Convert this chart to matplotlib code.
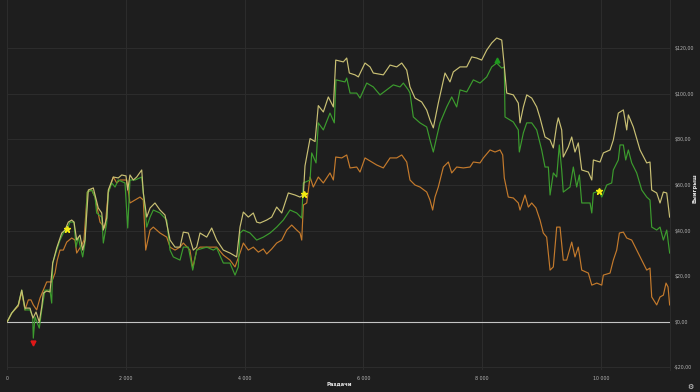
import matplotlib
matplotlib.use("Agg")
import matplotlib.pyplot as plt
import matplotlib.transforms as mtransforms
import numpy as np

# ---------------- data ----------------
green_hands = [0, 74, 185, 243, 298, 382, 428, 438, 467, 539, 580, 635, 719, 748, 765, 832, 888, 944, 1011, 1057,
               1124, 1158, 1196, 1270, 1309, 1348, 1422, 1478, 1506, 1591, 1618, 1675, 1702, 1759, 1815, 1870, 1983, 2029, 2067, 2152,
               2265, 2292, 2349, 2405, 2460, 2573, 2686, 2742, 2797, 2910, 2966, 3050, 3124, 3191, 3360, 3471, 3528, 3640, 3752, 3837,
               3892, 3921, 3977, 4090, 4202, 4314, 4427, 4539, 4651, 4764, 4876, 4961, 4988, 5101, 5129, 5202, 5240, 5325, 5437, 5510,
               5538, 5690, 5719, 5775, 5887, 5943, 6056, 6167, 6280, 6393, 6504, 6617, 6673, 6757, 6785, 6841, 6954, 7067, 7122, 7178,
               7235, 7291, 7404, 7488, 7572, 7628, 7741, 7852, 7965, 8078, 8162, 8246, 8331, 8374, 8386, 8526, 8610, 8627, 8695, 8752,
               8836, 8920, 9004, 9060, 9116, 9145, 9200, 9257, 9301, 9341, 9368, 9481, 9537, 9594, 9639, 9679, 9819, 9848, 9875, 9976,
               10016, 10100, 10184, 10211, 10295, 10324, 10380, 10420, 10464, 10521, 10605, 10690, 10774, 10829, 10858, 10942, 10998, 11054, 11111, 11160]
green_won = [0, 3.7, 7.3, 13.8, 5.1, 5.1, 2.0, -7.3, 2.0, -2.9, 5.1, 13.8, 13.8, 8.1, 25.7, 31.4, 35.8, 38.9, 40.7, 43.7,
             43.7, 32.7, 37.1, 28.4, 34.5, 56.9, 57.8, 54.7, 47.7, 45.9, 34.5, 43.3, 56.5, 60.9, 59.1, 62.2, 60.9, 41.1, 62.2, 62.2,
             63.5, 56.5, 41.5, 45.9, 49.0, 47.7, 44.6, 31.4, 28.4, 27.0, 32.7, 32.7, 22.6, 31.4, 32.7, 31.4, 32.3, 25.7, 25.7, 20.4,
             24.0, 38.9, 40.2, 38.9, 35.8, 37.1, 38.9, 41.5, 44.6, 49.0, 47.7, 45.5, 60.9, 62.2, 74.1, 69.7, 87.3, 84.2, 91.6, 87.3,
             106.2, 105.3, 107.0, 100.4, 100.4, 98.2, 104.8, 103.1, 99.6, 101.8, 104.0, 103.1, 104.8, 101.8, 100.4, 89.9, 87.3, 85.5, 79.8, 74.5,
             81.1, 87.3, 94.3, 98.7, 94.3, 101.8, 100.9, 106.2, 104.8, 107.5, 111.9, 113.6, 111.4, 111.9, 89.9, 87.7, 84.2, 74.5, 82.9, 87.3,
             87.3, 84.2, 75.4, 67.9, 67.9, 55.6, 65.3, 63.5, 77.6, 66.6, 56.9, 59.1, 67.9, 59.1, 64.4, 52.1, 52.1, 47.7, 56.5, 57.4,
             54.7, 60.0, 60.9, 66.6, 71.0, 77.6, 77.6, 71.0, 75.4, 69.7, 65.3, 57.8, 54.7, 53.4, 41.5, 40.2, 41.5, 35.8, 40.2, 30.1]

yellow_hands = [0, 74, 185, 243, 298, 382, 433, 484, 539, 580, 607, 664, 719, 765, 832, 917, 972, 1028, 1085, 1124,
                1169, 1225, 1270, 1309, 1365, 1449, 1533, 1591, 1618, 1675, 1702, 1786, 1870, 1928, 2000, 2029, 2067, 2123, 2180, 2265,
                2292, 2349, 2405, 2488, 2573, 2657, 2742, 2826, 2910, 2966, 3050, 3134, 3191, 3247, 3360, 3444, 3528, 3640, 3752, 3865,
                3921, 3977, 4061, 4145, 4202, 4258, 4371, 4455, 4539, 4624, 4735, 4848, 4932, 4988, 5016, 5101, 5185, 5240, 5325, 5409,
                5494, 5534, 5662, 5719, 5763, 5859, 5915, 6027, 6112, 6167, 6336, 6449, 6561, 6646, 6730, 6785, 6869, 6982, 7067, 7122,
                7178, 7262, 7375, 7459, 7515, 7628, 7741, 7825, 7909, 7993, 8078, 8162, 8246, 8331, 8369, 8415, 8526, 8610, 8639, 8695,
                8752, 8836, 8920, 8976, 9060, 9145, 9200, 9257, 9284, 9341, 9368, 9452, 9510, 9565, 9621, 9679, 9790, 9848, 9875, 9987,
                10043, 10156, 10211, 10295, 10380, 10437, 10464, 10548, 10661, 10774, 10829, 10858, 10942, 10998, 11054, 11111, 11160]
yellow_won = [0, 3.7, 7.3, 13.8, 5.9, 5.9, 1.5, 4.2, -0.2, 6.4, 12.5, 13.4, 13.0, 25.7, 32.3, 38.9, 40.2, 43.7, 44.6, 43.7,
              35.8, 38.0, 31.4, 35.8, 57.8, 58.7, 49.9, 47.7, 40.2, 45.5, 57.8, 63.5, 63.1, 64.4, 64.0, 57.8, 64.4, 62.2, 63.5, 66.6,
              56.5, 45.9, 49.9, 52.1, 49.0, 46.8, 35.8, 32.7, 32.7, 39.3, 38.9, 31.4, 32.7, 38.9, 37.1, 41.1, 35.8, 31.4, 30.1, 28.4,
              41.5, 48.1, 45.9, 47.7, 43.7, 43.3, 44.6, 45.9, 50.3, 47.7, 56.5, 55.6, 54.7, 55.6, 68.4, 80.4, 79.1, 94.9, 92.1, 98.7,
              94.3, 114.9, 114.1, 115.8, 109.2, 108.4, 107.5, 113.6, 111.9, 109.2, 108.4, 112.7, 111.9, 113.6, 110.5, 103.1, 98.2, 96.5, 92.9, 88.6,
              85.1, 96.0, 109.2, 105.3, 109.7, 111.9, 111.9, 116.3, 115.8, 114.9, 119.3, 122.4, 124.6, 123.7, 113.6, 100.4, 99.6, 96.0, 87.3, 94.3,
              99.6, 98.2, 94.3, 89.5, 81.1, 79.8, 76.3, 86.4, 89.5, 84.2, 72.3, 76.7, 81.1, 74.5, 78.5, 66.6, 65.7, 62.2, 71.0, 70.1,
              74.1, 75.4, 79.8, 91.6, 93.0, 84.2, 90.8, 85.5, 75.4, 69.7, 70.1, 57.8, 56.5, 52.1, 56.9, 56.5, 45.9]

orange_hands = [0, 74, 185, 243, 298, 354, 399, 438, 495, 551, 607, 664, 748, 804, 842, 888, 944, 1001, 1085, 1141,
                1169, 1254, 1292, 1348, 1422, 1478, 1562, 1646, 1702, 1786, 1843, 1899, 2012, 2067, 2152, 2236, 2292, 2332, 2405, 2460,
                2517, 2573, 2686, 2742, 2826, 2910, 2966, 3078, 3124, 3191, 3247, 3360, 3528, 3640, 3752, 3837, 3921, 3977, 4061, 4145,
                4230, 4314, 4371, 4455, 4539, 4624, 4708, 4792, 4876, 4932, 4961, 4988, 5045, 5101, 5156, 5240, 5325, 5437, 5494, 5534,
                5635, 5719, 5775, 5887, 5943, 6027, 6140, 6224, 6336, 6449, 6561, 6646, 6730, 6785, 6869, 6954, 7067, 7122, 7167, 7206,
                7262, 7347, 7431, 7488, 7572, 7684, 7797, 7852, 7965, 8021, 8134, 8218, 8302, 8347, 8374, 8441, 8526, 8610, 8639, 8723,
                8779, 8836, 8908, 8976, 9031, 9088, 9145, 9200, 9257, 9313, 9368, 9425, 9510, 9565, 9621, 9679, 9790, 9848, 9932, 10016,
                10043, 10156, 10211, 10268, 10313, 10380, 10437, 10521, 10605, 10690, 10774, 10829, 10858, 10942, 10998, 11054, 11099, 11133, 11160]
orange_won = [0, 3.7, 6.8, 13.0, 5.1, 9.5, 9.5, 7.3, 5.1, 10.3, 13.8, 17.4, 17.4, 21.3, 27.0, 31.4, 31.4, 34.9, 36.7, 35.8,
              30.1, 33.6, 35.8, 56.9, 57.8, 54.7, 43.7, 41.1, 56.9, 63.5, 60.9, 62.2, 62.2, 52.1, 53.4, 54.7, 53.4, 31.4, 40.2, 41.5,
              40.2, 38.9, 37.1, 32.7, 31.4, 32.7, 34.5, 31.4, 23.5, 31.4, 32.7, 32.7, 32.7, 29.2, 27.0, 24.0, 30.1, 34.5, 31.4, 32.7,
              30.5, 31.9, 29.7, 31.9, 34.5, 35.8, 40.2, 42.4, 40.2, 38.9, 35.8, 51.2, 52.1, 63.5, 59.1, 63.5, 60.9, 65.3, 62.2, 72.3,
              71.9, 73.2, 67.5, 67.9, 65.7, 71.9, 70.1, 68.8, 67.5, 71.9, 71.9, 73.2, 70.1, 62.2, 60.0, 59.1, 56.9, 53.4, 49.0, 54.7,
              59.1, 67.9, 70.1, 65.3, 67.9, 67.5, 67.9, 70.1, 69.7, 71.9, 75.4, 74.5, 75.4, 73.2, 63.1, 54.7, 54.3, 52.1, 49.0, 55.6,
              50.3, 52.1, 49.9, 44.6, 38.9, 37.1, 22.6, 24.0, 41.5, 41.5, 27.0, 27.0, 34.9, 28.4, 32.7, 22.6, 21.3, 16.0, 16.9, 16.0,
              20.4, 21.3, 27.0, 31.4, 38.9, 39.3, 36.7, 35.8, 31.4, 27.0, 22.6, 23.5, 10.8, 7.3, 10.8, 11.6, 16.9, 15.2, 7.3]

star_hands = [1011, 4999, 9976]
star_won = [40.7, 55.9, 57.4]

x_ticks = [0, 2000, 4000, 6000, 8000, 10000]
x_tick_labels = ["0", "2 000", "4 000", "6 000", "8 000", "10 000"]
y_ticks = [-20, 0, 20, 40, 60, 80, 100, 120]
y_tick_labels = ["-$20,00", "$0,00", "$20,00", "$40,00", "$60,00", "$80,00", "$100,00", "$120,00"]

# ---------------- style ----------------
BG = "#1e1e1e"
GRID = "#2d2d2d"
TXT = "#b4b4b4"
plt.rcParams['font.family'] = ['DejaVu Sans']

fig = plt.figure(figsize=(7.0, 3.92), dpi=100, facecolor=BG)
ax = fig.add_axes([7.3 / 700, 1 - 370 / 392, (670 - 7.3) / 700, 370 / 392])
ax.set_facecolor(BG)

ax.set_xlim(0, 11166)
ax.set_ylim(-21.3, 141.3)

ax.set_xticks(x_ticks)
ax.set_xticklabels(x_tick_labels)
ax.set_yticks(y_ticks)
ax.set_yticklabels(y_tick_labels)
ax.yaxis.tick_right()
ax.tick_params(axis='both', length=0, labelsize=3.4, colors=TXT)
ax.tick_params(axis='y', pad=3)
ax.tick_params(axis='x', pad=4)
for lab in ax.get_yticklabels():
    lab.set_horizontalalignment('left')
ax.grid(True, color=GRID, linewidth=0.7)
ax.set_axisbelow(True)
for s in ['top', 'left', 'bottom']:
    ax.spines[s].set_visible(False)
ax.spines['right'].set_color(GRID)
ax.spines['right'].set_linewidth(0.7)

# zero line
ax.axhline(0, color="#c4c4c4", linewidth=0.8, zorder=2)

ax.plot(orange_hands, orange_won, color="#c47a2c", linewidth=0.85, zorder=3)
ax.plot(green_hands, green_won, color="#3c9c2e", linewidth=0.85, zorder=4)
ax.plot(yellow_hands, yellow_won, color="#c9c074", linewidth=0.85, zorder=5)

# markers for min / max of main line
imin = int(np.argmin(green_won))
imax = int(np.argmax(green_won))
down = mtransforms.offset_copy(ax.transData, fig=fig, x=0, y=-3.5, units='points')
up = mtransforms.offset_copy(ax.transData, fig=fig, x=0, y=2.5, units='points')
ax.plot([green_hands[imin]], [green_won[imin]], marker='v', color="#e01818", markersize=3.5,
        linestyle='none', transform=down, zorder=6)
ax.plot([green_hands[imax]], [green_won[imax]], marker='^', color="#1e9a1e", markersize=3.5,
        linestyle='none', transform=up, zorder=6)
ax.plot(star_hands, star_won, marker='*', color="#f2ea10", markersize=5, linestyle='none', zorder=7)

fig.text(339 / 700, 1 - 384 / 392, "Раздачи", color="#e6e6e6", fontsize=3.8,
         ha='center', va='center', fontweight='bold')
fig.text(694.5 / 700, 1 - 188 / 392, "Выигрыш", color="#e6e6e6", fontsize=3.8,
         ha='center', va='center', rotation=90, fontweight='bold')
fig.text(690 / 700, 1 - 387 / 392, "⚙", color="#e6e6e6", fontsize=5, ha='center', va='center')

fig.savefig("out.png", dpi=100, facecolor=BG)
